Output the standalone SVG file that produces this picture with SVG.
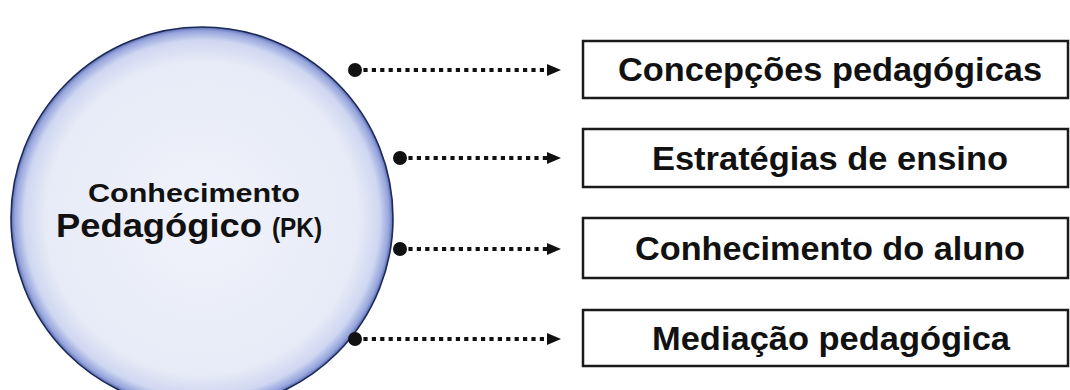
<svg xmlns="http://www.w3.org/2000/svg" width="1070" height="390" viewBox="0 0 1070 390">
<style>
.box{fill:#ffffff;stroke:#1a1a1a;stroke-width:2.5}
.bt{font-family:"Liberation Sans",Arial,sans-serif;font-weight:bold;font-size:33px;fill:#111;text-anchor:middle}
.ct{font-family:"Liberation Sans",Arial,sans-serif;font-weight:bold;fill:#111}
.conn{fill:none;stroke:#111;stroke-width:4.2;stroke-dasharray:4.2 4.2}
</style>
<defs>
<radialGradient id="g" cx="0.5" cy="0.5" r="0.5">
<stop offset="0" stop-color="#f1f3fb"/>
<stop offset="0.82" stop-color="#e7ebf7"/>
<stop offset="0.93" stop-color="#cfd7f1"/>
<stop offset="0.98" stop-color="#95a4dc"/>
<stop offset="1" stop-color="#5a6aae"/>
</radialGradient>
<marker id="dot" markerUnits="userSpaceOnUse" markerWidth="16" markerHeight="16" refX="8" refY="8" orient="auto">
<circle cx="8" cy="8" r="7" fill="#111"/>
</marker>
<marker id="arr" markerUnits="userSpaceOnUse" markerWidth="18" markerHeight="16" refX="2" refY="8" orient="auto">
<polygon points="2,2 16,8 2,14" fill="#111"/>
</marker>
</defs>
<rect width="1070" height="390" fill="#ffffff"/>
<g id="pk">
<circle cx="202" cy="218" r="191" fill="url(#g)" stroke="#1c2a58" stroke-width="1.6"/>
<text class="ct" x="194" y="202" font-size="26" text-anchor="middle" textLength="212" lengthAdjust="spacingAndGlyphs">Conhecimento</text>
<text class="ct" x="56" y="237" font-size="33" textLength="206" lengthAdjust="spacingAndGlyphs">Pedagógico</text>
<text class="ct" x="272" y="237" font-size="27" textLength="50" lengthAdjust="spacingAndGlyphs">(PK)</text>
</g>
<g id="connectors">
<path class="conn" d="M355,70 H547" marker-start="url(#dot)" marker-end="url(#arr)"/>
<path class="conn" d="M400,158 H547" marker-start="url(#dot)" marker-end="url(#arr)"/>
<path class="conn" d="M400,249 H547" marker-start="url(#dot)" marker-end="url(#arr)"/>
<path class="conn" d="M355,339 H547" marker-start="url(#dot)" marker-end="url(#arr)"/>
</g>
<g id="n1">
<rect class="box" x="583" y="41" width="485" height="57"/>
<text class="bt" x="830" y="81" textLength="424" lengthAdjust="spacingAndGlyphs">Concepções pedagógicas</text>
</g>
<g id="n2">
<rect class="box" x="583" y="129" width="485" height="58"/>
<text class="bt" x="830" y="170" textLength="356" lengthAdjust="spacingAndGlyphs">Estratégias de ensino</text>
</g>
<g id="n3">
<rect class="box" x="583" y="218" width="485" height="60"/>
<text class="bt" x="830" y="260" textLength="390" lengthAdjust="spacingAndGlyphs">Conhecimento do aluno</text>
</g>
<g id="n4">
<rect class="box" x="583" y="310" width="485" height="56"/>
<text class="bt" x="831" y="350" textLength="358" lengthAdjust="spacingAndGlyphs">Mediação pedagógica</text>
</g>
</svg>
